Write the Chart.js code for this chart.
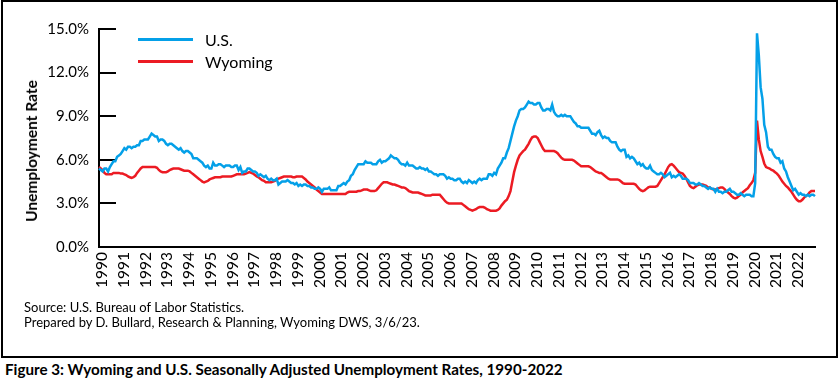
<!DOCTYPE html>
<html>
<head>
<meta charset="utf-8">
<script src="https://cdn.jsdelivr.net/npm/chart.js@4/dist/chart.umd.min.js"></script>
<style>
  html, body { margin: 0; padding: 0; background: #fff; }
  body { width: 840px; height: 387px; position: relative; overflow: hidden; font-family: Lato, "Open Sans", sans-serif; color: #000; }
  #box { position: absolute; left: 1px; top: 0px; width: 833px; height: 354px; border: 2px solid #000; }
  #cv { position: absolute; left: 0; top: 0; }
  #ytitle { position: absolute; left: 31px; top: 151px; transform: translate(-50%, -50%) rotate(-90deg); white-space: nowrap; font-weight: bold; font-size: 15.5px; }
  .legrow { position: absolute; left: 138px; height: 22px; width: 200px; }
  .legrow span.ln { position: absolute; left: 0; top: 8.5px; width: 55px; height: 3px; }
  .legrow span.tx { position: absolute; left: 67px; top: 0; font-size: 16px; line-height: 22px; white-space: nowrap; }
  .src { position: absolute; left: 24px; font-size: 13px; line-height: 16px; white-space: nowrap; }
  #caption { position: absolute; left: 5px; top: 361px; font-size: 15.2px; line-height: 17px; font-weight: bold; white-space: nowrap; }
</style>
</head>
<body>
<div id="box"></div>
<canvas id="cv" width="840" height="300"></canvas>
<div id="ytitle">Unemployment Rate</div>
<div id="legend"></div>
<div class="src" style="top:299px">Source: U.S. Bureau of Labor Statistics.</div>
<div class="src" style="top:314px">Prepared by D. Bullard, Research &amp; Planning, Wyoming DWS, 3/6/23.</div>
<div id="caption">Figure 3: Wyoming and U.S. Seasonally Adjusted Unemployment Rates, 1990-2022</div>
<script>
(function(){

var years = ['1990','1991','1992','1993','1994','1995','1996','1997','1998','1999','2000',
  '2001','2002','2003','2004','2005','2006','2007','2008','2009','2010','2011',
  '2012','2013','2014','2015','2016','2017','2018','2019','2020','2021','2022'];
var months = ['Jan','Feb','Mar','Apr','May','Jun','Jul','Aug','Sep','Oct','Nov','Dec'];

var seriesNames = ['U.S.', 'Wyoming'];
var seriesColors = ['#04A0E8', '#EC1B23'];
var yTickValues = [0, 3, 6, 9, 12, 15];

// monthly, seasonally adjusted, percent
var usRate = [
  5.4,5.3,5.2,5.4,5.4,5.2,5.5,5.7,5.9,5.9,6.2,6.3,   // 1990
  6.4,6.6,6.8,6.7,6.9,6.9,6.8,6.9,6.9,7.0,7.0,7.3,   // 1991
  7.3,7.4,7.4,7.4,7.6,7.8,7.7,7.6,7.6,7.3,7.4,7.4,   // 1992
  7.3,7.1,7.0,7.1,7.1,7.0,6.9,6.8,6.7,6.8,6.6,6.5,   // 1993
  6.6,6.6,6.5,6.4,6.1,6.1,6.1,6.0,5.9,5.8,5.6,5.5,   // 1994
  5.6,5.4,5.4,5.8,5.6,5.6,5.7,5.7,5.6,5.5,5.6,5.6,   // 1995
  5.6,5.5,5.5,5.6,5.6,5.3,5.5,5.1,5.2,5.2,5.4,5.4,   // 1996
  5.3,5.2,5.2,5.1,4.9,5.0,4.9,4.8,4.9,4.7,4.6,4.7,   // 1997
  4.6,4.6,4.7,4.3,4.4,4.5,4.5,4.5,4.6,4.5,4.4,4.4,   // 1998
  4.3,4.4,4.2,4.3,4.2,4.3,4.3,4.2,4.2,4.1,4.1,4.0,   // 1999
  4.0,4.1,4.0,3.8,4.0,4.0,4.0,4.1,3.9,3.9,3.9,3.9,   // 2000
  4.2,4.2,4.3,4.4,4.3,4.5,4.6,4.9,5.0,5.3,5.5,5.7,   // 2001
  5.7,5.7,5.7,5.9,5.8,5.8,5.8,5.7,5.7,5.7,5.9,6.0,   // 2002
  5.8,5.9,5.9,6.0,6.1,6.3,6.2,6.1,6.1,6.0,5.8,5.7,   // 2003
  5.7,5.6,5.8,5.6,5.6,5.6,5.5,5.4,5.4,5.5,5.4,5.4,   // 2004
  5.3,5.4,5.2,5.2,5.1,5.0,5.0,4.9,5.0,5.0,5.0,4.9,   // 2005
  4.7,4.8,4.7,4.7,4.6,4.6,4.7,4.7,4.5,4.4,4.5,4.4,   // 2006
  4.6,4.5,4.4,4.5,4.4,4.6,4.7,4.6,4.7,4.7,4.7,5.0,   // 2007
  5.0,4.9,5.1,5.0,5.4,5.6,5.8,6.1,6.1,6.5,6.8,7.3,   // 2008
  7.8,8.3,8.7,9.0,9.4,9.5,9.5,9.6,9.8,10.0,9.9,9.9,  // 2009
  9.8,9.8,9.9,9.9,9.6,9.4,9.4,9.5,9.5,9.4,9.8,9.3,   // 2010
  9.1,9.0,9.0,9.1,9.0,9.1,9.0,9.0,9.0,8.8,8.6,8.5,   // 2011
  8.3,8.3,8.2,8.2,8.2,8.2,8.2,8.0,7.8,7.8,7.7,7.9,   // 2012
  8.0,7.7,7.5,7.6,7.5,7.5,7.3,7.2,7.2,7.2,6.9,6.7,   // 2013
  6.6,6.7,6.7,6.2,6.3,6.1,6.2,6.1,5.9,5.7,5.8,5.6,   // 2014
  5.7,5.5,5.4,5.4,5.6,5.3,5.2,5.1,5.0,5.0,5.1,5.0,   // 2015
  4.8,4.9,5.0,5.1,4.8,4.9,4.8,4.9,5.0,4.9,4.7,4.7,   // 2016
  4.7,4.6,4.4,4.4,4.4,4.3,4.3,4.4,4.3,4.2,4.2,4.1,   // 2017
  4.0,4.1,4.0,4.0,3.8,4.0,3.8,3.8,3.7,3.8,3.8,3.9,   // 2018
  4.0,3.8,3.8,3.7,3.6,3.6,3.7,3.6,3.5,3.6,3.6,3.6,   // 2019
  3.5,3.5,4.4,14.7,13.2,11.0,10.2,8.4,7.9,6.9,6.7,6.7, // 2020
  6.4,6.2,6.1,6.1,5.8,5.9,5.4,5.2,4.8,4.5,4.2,3.9,   // 2021
  4.0,3.8,3.6,3.7,3.6,3.6,3.5,3.6,3.5,3.6,3.6,3.5    // 2022
];

var wyRate = [
  5.5,5.4,5.3,5.1,5.0,5.0,5.0,5.0,5.1,5.1,5.1,5.1,            // 1990
  5.05,5.05,5.0,4.95,4.85,4.8,4.75,4.8,4.9,5.1,5.25,5.4,      // 1991
  5.5,5.5,5.5,5.5,5.5,5.5,5.5,5.5,5.45,5.3,5.2,5.15,          // 1992
  5.15,5.15,5.2,5.3,5.35,5.4,5.4,5.4,5.4,5.35,5.3,5.25,       // 1993
  5.25,5.25,5.2,5.1,5.0,4.9,4.8,4.7,4.6,4.5,4.45,4.5,         // 1994
  4.55,4.65,4.7,4.75,4.8,4.8,4.8,4.8,4.85,4.85,4.85,4.85,     // 1995
  4.85,4.85,4.9,4.95,5.0,5.0,5.0,5.0,5.0,5.05,5.1,5.15,       // 1996
  5.1,5.05,4.95,4.85,4.8,4.7,4.6,4.55,4.45,4.45,4.45,4.45,    // 1997
  4.5,4.55,4.65,4.7,4.75,4.8,4.85,4.85,4.85,4.85,4.85,4.8,    // 1998
  4.8,4.85,4.85,4.85,4.85,4.75,4.65,4.5,4.4,4.3,4.2,4.1,      // 1999
  3.95,3.85,3.75,3.65,3.65,3.65,3.65,3.65,3.65,3.65,3.65,3.65, // 2000
  3.65,3.65,3.65,3.65,3.65,3.75,3.8,3.8,3.8,3.8,3.8,3.85,     // 2001
  3.85,3.9,3.95,3.95,3.95,3.9,3.85,3.85,3.85,3.9,4.05,4.2,    // 2002
  4.35,4.45,4.45,4.45,4.4,4.35,4.3,4.3,4.25,4.2,4.15,4.1,     // 2003
  4.1,4.05,3.95,3.85,3.8,3.75,3.75,3.75,3.75,3.7,3.65,3.6,    // 2004
  3.55,3.55,3.55,3.55,3.6,3.6,3.6,3.6,3.6,3.45,3.3,3.15,      // 2005
  3.05,3.0,3.0,3.0,3.0,3.0,3.0,3.0,3.0,2.9,2.8,2.7,           // 2006
  2.6,2.55,2.5,2.55,2.6,2.7,2.75,2.75,2.75,2.7,2.6,2.55,      // 2007
  2.5,2.5,2.5,2.5,2.55,2.65,2.85,3.0,3.15,3.25,3.5,3.85,      // 2008
  4.5,5.15,5.6,6.0,6.3,6.45,6.6,6.7,6.9,7.1,7.35,7.55,        // 2009
  7.6,7.6,7.5,7.25,7.0,6.75,6.6,6.6,6.6,6.6,6.6,6.6,          // 2010
  6.55,6.45,6.3,6.15,6.05,6.0,6.0,6.0,6.0,6.0,5.95,5.85,      // 2011
  5.75,5.65,5.55,5.55,5.55,5.55,5.55,5.5,5.4,5.3,5.2,5.15,    // 2012
  5.1,5.1,5.0,4.9,4.8,4.7,4.65,4.65,4.65,4.65,4.65,4.6,       // 2013
  4.5,4.4,4.35,4.35,4.35,4.35,4.35,4.35,4.3,4.15,4.0,3.9,     // 2014
  3.85,3.9,4.0,4.1,4.15,4.15,4.15,4.15,4.2,4.4,4.6,4.8,       // 2015
  5.0,5.25,5.5,5.65,5.7,5.6,5.45,5.3,5.15,5.1,5.05,4.9,       // 2016
  4.7,4.45,4.2,4.1,4.05,4.15,4.25,4.3,4.3,4.3,4.25,4.2,       // 2017
  4.1,4.1,4.0,3.95,3.95,4.0,4.05,4.1,4.1,4.0,3.85,3.75,       // 2018
  3.65,3.5,3.4,3.35,3.4,3.5,3.6,3.75,3.85,3.95,4.05,4.25,     // 2019
  4.4,4.6,5.1,8.7,7.4,6.6,6.2,5.75,5.5,5.45,5.4,5.3,          // 2020
  5.25,5.15,5.05,4.9,4.7,4.5,4.35,4.2,4.1,3.95,3.8,3.6,       // 2021
  3.4,3.25,3.15,3.15,3.25,3.4,3.5,3.6,3.75,3.85,3.85,3.85     // 2022
];

var labels = [];
years.forEach(function(y){ months.forEach(function(m){ labels.push(m + ' ' + y); }); });

var FONT = 'Lato, "Open Sans", sans-serif';

// short tick marks pointing into the plot, like the original
var innerTicks = {
  id: 'innerTicks',
  beforeDatasetsDraw: function(chart){
    var ctx = chart.ctx, area = chart.chartArea, y = chart.scales.y;
    ctx.save();
    ctx.strokeStyle = '#000';
    ctx.lineWidth = 2;
    y.ticks.forEach(function(t){
      var py = Math.round(y.getPixelForValue(t.value));
      ctx.beginPath();
      ctx.moveTo(area.left, py);
      ctx.lineTo(area.left + 17, py);
      ctx.stroke();
    });
    ctx.restore();
  }
};

var data = {
  labels: labels,
  datasets: [
    { label: seriesNames[0], data: usRate, borderColor: seriesColors[0], borderWidth: 2.5 },
    { label: seriesNames[1], data: wyRate, borderColor: seriesColors[1], borderWidth: 2.5 }
  ]
};

var options = {
  responsive: false,
  animation: false,
  layout: { padding: { left: 0, top: 29, right: 25, bottom: 0 } },
  elements: { point: { radius: 0 }, line: { tension: 0, fill: false } },
  plugins: { legend: { display: false }, tooltip: { enabled: false } },
  scales: {
    x: {
      type: 'category',
      offset: false,
      grid: { display: false, drawTicks: false },
      border: { display: true, color: '#000', width: 2 },
      ticks: {
        autoSkip: false, minRotation: 90, maxRotation: 90,
        labelOffset: 3, padding: 5, color: '#000',
        font: { family: FONT, size: 15.5 },
        callback: function(v, i){ return i % 12 === 0 ? years[i / 12] : ''; }
      },
      afterFit: function(s){ s.height = 53; }
    },
    y: {
      min: 0, max: 15,
      grid: { display: false, drawTicks: false },
      border: { display: true, color: '#000', width: 2 },
      ticks: {
        padding: 10, color: '#000',
        font: { family: FONT, size: 15 },
        callback: function(v){ return v.toFixed(1) + '%'; }
      },
      afterBuildTicks: function(s){ s.ticks = yTickValues.map(function(v){ return { value: v }; }); },
      afterFit: function(s){ s.width = 99; }
    }
  }
};

var chart = new Chart(document.getElementById('cv').getContext('2d'), {
  type: 'line', data: data, options: options, plugins: [innerTicks]
});

// legend inside the plot, built from the datasets
var leg = document.getElementById('legend');
chart.data.datasets.forEach(function(ds, i){
  var row = document.createElement('div');
  row.className = 'legrow';
  row.style.top = (29 + 22 * i) + 'px';
  row.innerHTML = '<span class="ln" style="background:' + ds.borderColor + '"></span><span class="tx">' + ds.label + '</span>';
  leg.appendChild(row);
});

}());
</script>
</body>
</html>
